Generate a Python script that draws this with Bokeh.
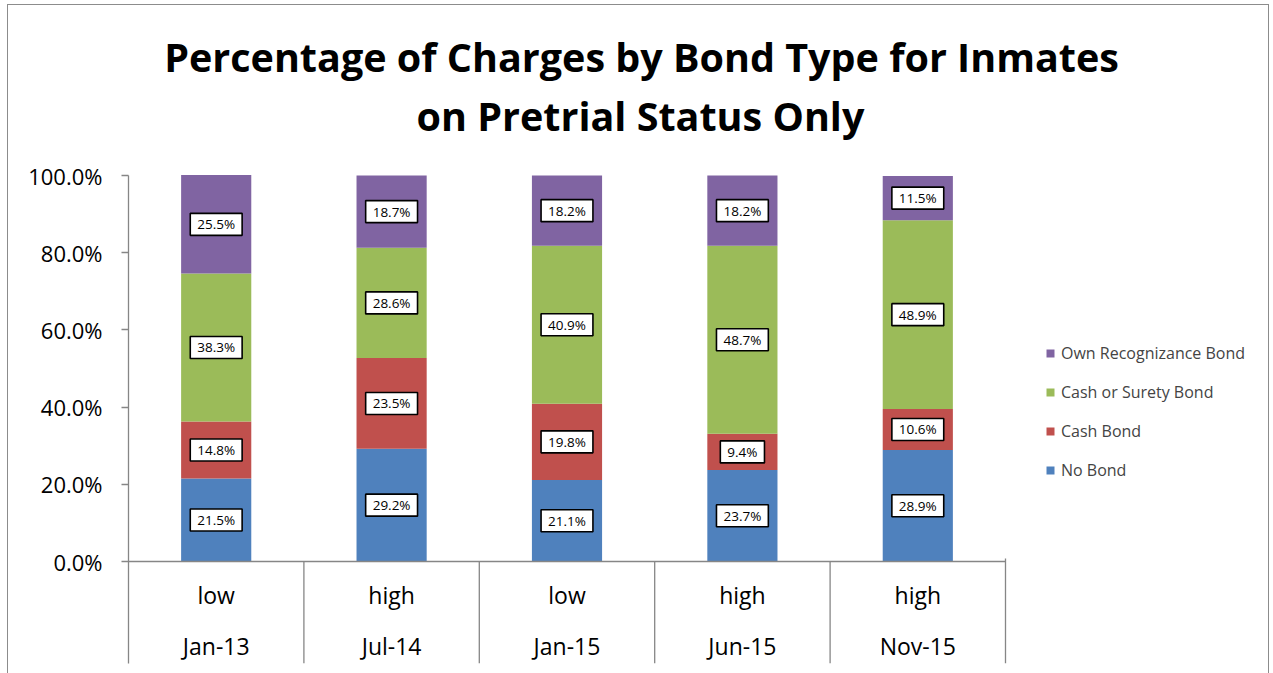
from bokeh.plotting import figure
from bokeh.models import (ColumnDataSource, Range1d, FixedTicker, PrintfTickFormatter,
                          Legend, LegendItem)
from bokeh.core.properties import value
from bokeh.embed import file_html
from bokeh.resources import INLINE

# ---------------- data ----------------
periods = ["Jan-13", "Jul-14", "Jan-15", "Jun-15", "Nov-15"]
levels = ["low", "high", "low", "high", "high"]
no_bond = [21.5, 29.2, 21.1, 23.7, 28.9]
cash_bond = [14.8, 23.5, 19.8, 9.4, 10.6]
cash_surety = [38.3, 28.6, 40.9, 48.7, 48.9]
own_recog = [25.5, 18.7, 18.2, 18.2, 11.5]
series_names = ["No Bond", "Cash Bond", "Cash or Surety Bond", "Own Recognizance Bond"]
y_ticks = [0, 20, 40, 60, 80, 100]
title_lines = ["Percentage of Charges by Bond Type for Inmates", "on Pretrial Status Only"]

# ---------------- style ----------------
colors = ["#4F81BD", "#C0504D", "#9BBB59", "#8064A2"]
FONT = "Open Sans"
GRAY = "#868686"

n = len(periods)
xs = [i + 0.5 for i in range(n)]
series = [no_bond, cash_bond, cash_surety, own_recog]

src = ColumnDataSource(dict(x=xs, **{nm: vals for nm, vals in zip(series_names, series)}))

W, H = 1260, 668
LEFT, BOTTOM = 120, 10
px_per_unit = 3.86
zero_px = 556                      # pixel row of 0 % inside the figure
y_end = 100 + (zero_px - 100 * px_per_unit) / px_per_unit
y_start = -((H - BOTTOM) - zero_px) / px_per_unit
cat_px = 175.4
x_end = (W - LEFT) / cat_px

p = figure(width=W, height=H, output_backend="svg", toolbar_location=None,
           x_range=Range1d(0, x_end), y_range=Range1d(y_start, y_end),
           x_axis_type=None, title=None,
           min_border_left=LEFT, min_border_right=0,
           min_border_top=0, min_border_bottom=BOTTOM)
p.outline_line_color = None
p.grid.visible = False
p.background_fill_color = "white"
p.border_fill_color = "white"
p.styles = {"margin-left": "8px", "margin-top": "5px", "outline": "1px solid #8c8c8c"}

ax = p.yaxis[0]
ax.bounds = (y_start, 100)
ax.ticker = FixedTicker(ticks=y_ticks)
ax.formatter = PrintfTickFormatter(format="%.1f%%")
ax.major_label_text_font = FONT
ax.major_label_text_font_size = "22px"
ax.major_label_text_color = "black"
ax.axis_line_color = GRAY
ax.axis_line_width = 1.3
ax.major_tick_line_color = GRAY
ax.major_tick_line_width = 1.3
ax.major_tick_out = 7
ax.major_tick_in = 0
ax.minor_tick_line_color = None
ax.major_label_standoff = 19

renderers = p.vbar_stack(series_names, x="x", width=0.4, fill_color=colors,
                         line_color=None, source=src)

# baseline and category separators
p.segment(x0=[0], y0=[0], x1=[n], y1=[0], line_color=GRAY, line_width=1.3)
sep_x = list(range(1, n + 1))
p.segment(x0=sep_x, y0=[0] * (n - 1) + [0.8], x1=sep_x, y1=[y_start] * n,
          line_color=GRAY, line_width=1.3)

# category labels
p.text(x=xs, y=[-8.8] * n, text=levels, text_align="center", text_baseline="middle",
       text_font=value(FONT), text_font_size=value("23px"), text_color="black")
p.text(x=xs, y=[-21.8] * n, text=periods, text_align="center", text_baseline="middle",
       text_font=value(FONT), text_font_size=value("23px"), text_color="black")

# data labels
lx, ly, lt = [], [], []
bottoms = [0.0] * n
for vals in series:
    for i, v in enumerate(vals):
        lx.append(xs[i])
        ly.append(bottoms[i] + v / 2)
        lt.append(f"{v:.1f}%")
        bottoms[i] += v
p.text(x=lx, y=ly, text=lt, text_align="center", text_baseline="middle",
       text_font=value(FONT), text_font_size=value("13.5px"), text_color="black",
       background_fill_color="white", border_line_color="black", border_line_width=1.6,
       padding=(7, 2))

# legend
items = [LegendItem(label=nm, renderers=[r]) for nm, r in zip(series_names, renderers)][::-1]
legend = Legend(items=items, location=(917, 182), label_text_font=FONT,
                label_text_font_size="16px", glyph_width=10, glyph_height=10,
                label_height=22, spacing=17, label_standoff=6, padding=0, margin=0,
                border_line_color=None, background_fill_alpha=0)
p.add_layout(legend)

# title (two lines, centred above the plot)
p.text(x=[2.925, 2.919], y=[130.57, 115.54], text=title_lines,
       text_align="center", text_baseline="middle", text_font=value(FONT),
       text_font_style="bold", text_font_size=value("39.5px"), text_color="black")

open("out.html", "w").write(file_html(p, INLINE))
